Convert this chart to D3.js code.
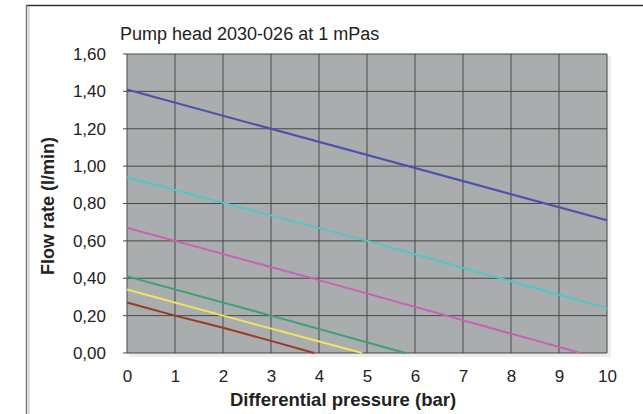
<!DOCTYPE html>
<html><head><meta charset="utf-8">
<script src="https://cdn.jsdelivr.net/npm/d3@7"></script>
<style>body{margin:0;background:#fff}svg{display:block}text{font-family:"Liberation Sans",Arial,sans-serif}</style>
</head><body><svg id="c" width="643" height="414"></svg>
<script>
const title = "Pump head 2030-026 at 1 mPas";
const xTicks = [0,1,2,3,4,5,6,7,8,9,10];
const yTicks = [0,0.2,0.4,0.6,0.8,1.0,1.2,1.4,1.6];
const seriesNames = ["blue","cyan","magenta","green","yellow","brown"];
const seriesColors = ["#4d4fae","#52c6c8","#c862b4","#3aa07a","#f2e45c","#9a3a22"];
const blueX = [0,10], blueY = [1.41,0.71];
const cyanX = [0,5,10], cyanY = [0.94,0.60,0.24];
const magentaX = [0,1,4,7,9.45], magentaY = [0.67,0.60,0.39,0.175,0];
const greenX = [0,3,5.8], greenY = [0.41,0.20,0];
const yellowX = [0,2,4.9], yellowY = [0.34,0.20,0];
const brownX = [0,1,2,3,3.9], brownY = [0.27,0.20,0.135,0.065,0];
const seriesX = [blueX,cyanX,magentaX,greenX,yellowX,brownX];
const seriesY = [blueY,cyanY,magentaY,greenY,yellowY,brownY];

const svg = d3.select("#c");
const L=127, R=607, T=54, B=353;
const x = d3.scaleLinear().domain([0,10]).range([L,R]);
const y = d3.scaleLinear().domain([0,1.6]).range([B,T]);

// frame
svg.append("line").attr("x1",26).attr("x2",643).attr("y1",5.5).attr("y2",5.5).attr("stroke","#333").attr("stroke-width",1.5);
svg.append("line").attr("x1",26.5).attr("x2",26.5).attr("y1",5).attr("y2",414).attr("stroke","#777").attr("stroke-width",1.5);
svg.append("rect").attr("x",28).attr("y",7).attr("width",2).attr("height",407).attr("fill","#ddd");

// shadow + plot bg
svg.append("rect").attr("x",L+2).attr("y",T+2).attr("width",R-L+2).attr("height",B-T+2).attr("fill","#ececec");
svg.append("rect").attr("x",L).attr("y",T).attr("width",R-L).attr("height",B-T).attr("fill","#a9adae");

// gridlines
const g = svg.append("g");
g.selectAll(".vx").data(xTicks).join("line")
 .attr("x1",d=>x(d)).attr("x2",d=>x(d)).attr("y1",T).attr("y2",B)
 .attr("stroke","#474747").attr("stroke-width",1);
g.selectAll(".hy").data(yTicks).join("line")
 .attr("x1",L-4).attr("x2",R).attr("y1",d=>y(d)).attr("y2",d=>y(d))
 .attr("stroke","#474747").attr("stroke-width",1);

// axes labels
const fmt = d=>d3.format(".2f")(d).replace(".",",");
const yAxis = d3.axisLeft(y).tickValues(yTicks).tickFormat(fmt).tickSize(0).tickPadding(21);
const ya = svg.append("g").attr("transform",`translate(${L},0)`).call(yAxis);
ya.select(".domain").remove();
ya.selectAll("text").attr("font-size",17).attr("fill","#222").attr("font-family","Liberation Sans, Arial, sans-serif");
const xAxis = d3.axisBottom(x).tickValues(xTicks).tickFormat(d3.format("d")).tickSize(0).tickPadding(17);
const xa = svg.append("g").attr("transform",`translate(0,${B})`).call(xAxis);
xa.select(".domain").remove();
xa.selectAll("text").attr("font-size",17).attr("fill","#222").attr("font-family","Liberation Sans, Arial, sans-serif");

// series
const line = d3.line().x(d=>x(d[0])).y(d=>y(d[1]));
seriesX.forEach((xs,i)=>{
  const pts = xs.map((v,j)=>[v,seriesY[i][j]]);
  svg.append("path").attr("d",line(pts)).attr("fill","none")
    .attr("stroke",seriesColors[i]).attr("stroke-width",2);
});

// titles
svg.append("text").attr("x",120).attr("y",40).attr("font-size",18).attr("fill","#222").text(title);
svg.append("text").attr("x",343).attr("y",406).attr("text-anchor","middle").attr("font-size",18.5).attr("font-weight","bold").attr("fill","#222").text("Differential pressure (bar)");
svg.append("text").attr("transform","translate(54,206) rotate(-90)").attr("text-anchor","middle").attr("font-size",18).attr("font-weight","bold").attr("fill","#222").text("Flow rate (l/min)");
</script></body></html>
